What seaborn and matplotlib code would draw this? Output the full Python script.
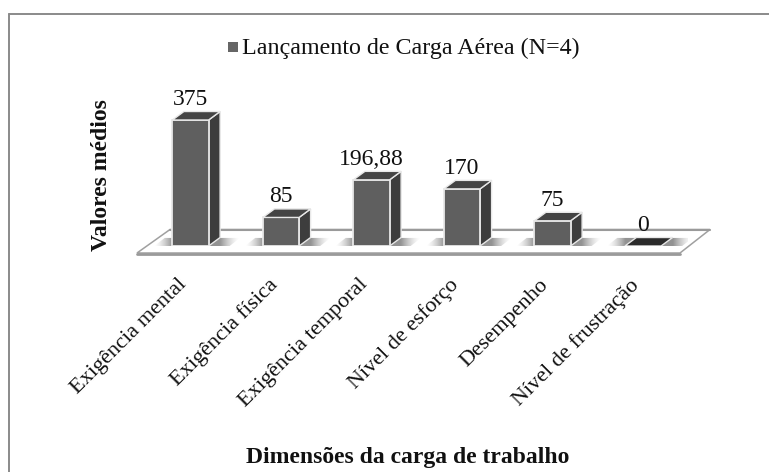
import numpy as np
import pandas as pd
import matplotlib
matplotlib.use("Agg")
import matplotlib.pyplot as plt
from matplotlib.patches import Polygon, Rectangle
import seaborn as sns

categories = ["Exigência mental", "Exigência física", "Exigência temporal",
              "Nível de esforço", "Desempenho", "Nível de frustração"]
values = [375, 85, 196.88, 170, 75, 0]
value_labels = ["375", "85", "196,88", "170", "75", "0"]
legend_label = "Lançamento de Carga Aérea (N=4)"
x_title = "Dimensões da carga de trabalho"
y_title = "Valores médios"

W, H = 769, 472
sns.set_theme(style="white")
plt.rcParams["font.family"] = ["Liberation Serif", "DejaVu Serif"]

fig = plt.figure(figsize=(W / 100, H / 100), dpi=100, facecolor="white")
# overlay in pixel coordinates for the chart furniture
pix = fig.add_axes([0, 0, 1, 1], zorder=0)
pix.set_xlim(0, W); pix.set_ylim(H, 0); pix.axis("off")
# only the top and left edges of the outer frame are inside the image
pix.plot([9, W], [14, 14], color="#8a8a8a", lw=1.4)
pix.plot([9, 9], [14, H], color="#8a8a8a", lw=1.4)
pix.add_patch(Polygon([(137, 253), (170, 229.5), (710, 229.5), (680, 253)],
                      closed=True, fc="white", ec="#a0a0a0", lw=1.1))
pix.plot([170, 710], [229.5, 229.5], color="#9a9a9a", lw=1.5)
pix.plot([137, 680], [253.5, 253.5], color="#9a9a9a", lw=2)

# bar axes: 90.5 px per category, zero at y=246 px, 375 -> 120 px
left, right = 145.25, 688.25
bottom, top = 246, 100
ax = fig.add_axes([left / W, 1 - bottom / H, (right - left) / W, (bottom - top) / H], zorder=1)
ax.patch.set_alpha(0)
ppu = 126 / 375
df = pd.DataFrame({"cat": categories, "val": values})
sns.barplot(data=df, x="cat", y="val", color="#5f5f5f", saturation=1, width=0.4,
            edgecolor="#e8e8e8", linewidth=1.3, ax=ax, zorder=3)

dx, dy = 11.5 / 90.5, 8.5 / ppu
bw = 0.2
for i, v in enumerate(values):
    # soft floor shadow: horizontal fade on both sides of the bar, clipped to a slanted band
    x0, x1 = i - bw - 0.2, i + bw + dx + 0.22
    xs = np.linspace(x0, x1, 120)
    fade = np.clip(np.minimum((xs - x0) / 0.2, (x1 - xs) / 0.22), 0, 1) ** 1.5
    rgba = np.zeros((1, xs.size, 4))
    rgba[..., :3] = 0.5
    rgba[..., 3] = 0.85 * fade
    im = ax.imshow(rgba, extent=(x0, x1, 0, dy * 0.95), aspect="auto", zorder=1,
                   interpolation="bilinear")
    band = Polygon([(x0, 0), (x0 + dx * 0.9, dy * 0.95), (x1, dy * 0.95), (x1 - dx * 0.9, 0)],
                   closed=True, transform=ax.transData)
    im.set_clip_path(band)
    if v > 0:
        ax.add_patch(Polygon([(i + bw, 0), (i + bw + dx, dy), (i + bw + dx, v + dy), (i + bw, v)],
                             closed=True, fc="#3d3d3d", ec="#e8e8e8", lw=1, zorder=2))
        ax.add_patch(Polygon([(i - bw, v), (i - bw + dx, v + dy), (i + bw + dx, v + dy), (i + bw, v)],
                             closed=True, fc="#444444", ec="#e8e8e8", lw=1, zorder=4))
    else:
        ax.add_patch(Polygon([(i - bw, 0), (i - bw + dx, dy), (i + bw + dx, dy), (i + bw, 0)],
                             closed=True, fc="#2b2b2b", ec="#e8e8e8", lw=1, zorder=4))
    ax.annotate(value_labels[i], xy=(i, v + dy), xytext=(0, 8.8),
                textcoords="offset points", ha="center", va="center",
                fontsize=17, color="#111111", annotation_clip=False)

ax.set_xlim(-0.5, 5.5)
ax.set_ylim(0, (bottom - top) / ppu)
ax.set_aspect("auto")
ax.axis("off")

# category labels, rotated 45 degrees, ending left of each bar centre
for i, c in enumerate(categories):
    ax.annotate(c, xy=(i, 0), xytext=(-9.7, -21), textcoords="offset points",
                rotation=45, rotation_mode="anchor", ha="right", va="top",
                fontsize=16, color="#111111", annotation_clip=False)

pix.add_patch(Rectangle((227.5, 42), 10, 10, fc="#666666", ec="none"))
pix.text(242.5, 48.5, legend_label, fontsize=17.3, va="center", ha="left", color="#111111")
pix.text(101.5, 175, y_title, fontsize=17, fontweight="bold", rotation=90,
         va="center", ha="center", color="#111111")
pix.text(408, 458, x_title, fontsize=17, fontweight="bold",
         va="center", ha="center", color="#111111")

fig.savefig("out.png", dpi=100, facecolor="white")
